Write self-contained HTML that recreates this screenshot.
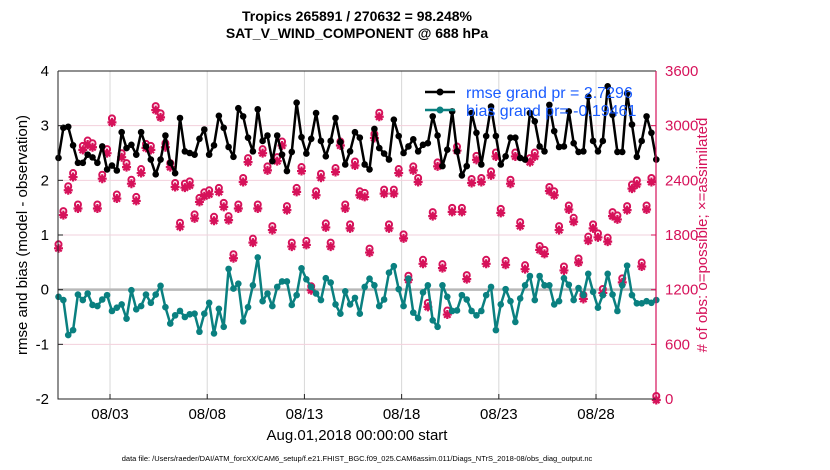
<!DOCTYPE html>
<html><head><meta charset="utf-8"><style>
body{margin:0;background:#fff;}
svg{display:block;font-family:"Liberation Sans",sans-serif;}
</style></head><body>
<svg id="chart" width="830" height="470" viewBox="0 0 830 470">
<g id="grid"></g>
<g id="marks"></g>
<g id="axes"></g>
<text x="357" y="21" text-anchor="middle" font-size="14" font-weight="bold">Tropics 265891 / 270632 = 98.248%</text>
<text x="357" y="38" text-anchor="middle" font-size="14" font-weight="bold">SAT_V_WIND_COMPONENT @ 688 hPa</text>
<text x="357" y="440" text-anchor="middle" font-size="15">Aug.01,2018 00:00:00 start</text>
<text x="357" y="461" text-anchor="middle" font-size="7.5">data file: /Users/raeder/DAI/ATM_forcXX/CAM6_setup/f.e21.FHIST_BGC.f09_025.CAM6assim.011/Diags_NTrS_2018-08/obs_diag_output.nc</text>
<text transform="translate(27,235) rotate(-90)" text-anchor="middle" font-size="15">rmse and bias (model - observation)</text>
<text transform="translate(707,235) rotate(-90)" text-anchor="middle" font-size="15" fill="#d6125a"># of obs: o=possible; ×=assimilated</text>
<g>
<line x1="425" y1="92" x2="455" y2="92" stroke="#000" stroke-width="2.5"/>
<circle cx="440" cy="92" r="3.5" fill="#000"/>
<text x="466" y="98" font-size="16" fill="#1a5cff">rmse grand pr = 2.7296</text>
<line x1="425" y1="110" x2="455" y2="110" stroke="#0a8080" stroke-width="2.5"/>
<circle cx="440" cy="110" r="3.5" fill="#0a8080"/>
<text x="466" y="116" font-size="16" fill="#1a5cff">bias grand pr= -0.19461</text>
</g>
</svg>
<script>
const tickDays=[2,7,12,17,22,27];
const tickLabels=["08/03","08/08","08/13","08/18","08/23","08/28"];
const leftTicks=[4,3,2,1,0,-1,-2];
const rightTicks=[0,600,1200,1800,2400,3000,3600];
const rmse=[2.41,2.96,2.98,2.64,2.32,2.32,2.47,2.42,2.32,2.62,2.20,2.27,2.18,2.88,2.59,2.65,2.47,2.88,2.62,2.38,2.11,2.38,2.82,2.32,2.13,3.14,2.53,2.50,2.47,2.76,2.93,2.47,
2.64,3.18,2.96,2.61,2.43,3.32,3.17,2.78,2.53,3.30,2.72,2.82,2.35,2.82,2.47,2.17,2.52,3.42,2.79,2.49,2.76,3.23,2.72,2.44,2.72,3.14,2.70,2.29,2.53,2.88,2.78,
2.29,2.20,2.94,2.59,2.49,2.38,3.11,2.81,2.50,2.62,2.75,2.53,2.65,2.68,3.17,2.82,2.26,2.56,3.26,2.53,2.09,2.26,3.23,2.87,2.29,2.81,3.35,2.81,2.29,2.44,2.78,
2.78,2.41,2.38,3.23,3.08,2.62,2.53,3.38,2.90,2.61,2.62,3.26,2.68,2.52,2.53,3.53,2.72,2.53,2.72,3.72,3.20,2.52,2.52,3.59,3.02,2.43,2.72,3.17,2.87,2.38];
const bias=[-0.13,-0.19,-0.83,-0.74,-0.09,-0.19,-0.07,-0.28,-0.30,-0.18,-0.10,-0.39,-0.33,-0.27,-0.53,-0.01,-0.36,-0.30,-0.09,-0.24,-0.09,0.07,-0.32,-0.62,-0.47,-0.39,-0.50,-0.45,-0.44,-0.77,-0.44,-0.24,
-0.80,-0.35,-0.68,0.38,0.02,0.11,-0.58,-0.32,0.08,0.59,-0.21,-0.07,-0.30,0.05,0.15,0.15,-0.28,-0.10,0.39,0.19,0.05,-0.07,-0.19,0.21,0.13,-0.27,-0.44,-0.03,-0.27,-0.15,-0.44,
0.05,0.20,0.08,-0.30,-0.18,0.31,0.43,0.01,-0.30,0.20,-0.42,-0.52,-0.05,0.08,-0.56,-0.68,0.08,-0.13,-0.39,-0.38,-0.10,-0.18,-0.39,-0.47,-0.39,-0.10,0.05,-0.74,-0.27,0.01,-0.21,
-0.59,-0.16,0.08,0.25,-0.19,0.25,0.08,0.08,-0.27,-0.21,0.21,0.09,-0.19,0.03,-0.10,0.29,-0.04,-0.33,-0.10,0.29,-0.09,-0.39,0.08,0.44,-0.10,-0.25,-0.25,-0.21,-0.24,-0.19];
const nobs=[1665,2029,2302,2447,2102,2745,2804,2774,2102,2429,2709,3047,2211,2665,2556,2374,2185,2491,2767,2745,3182,3102,2774,2556,2338,1902,2331,2356,1993,2174,2236,2258,
1967,2284,2120,1974,1556,2102,2393,2611,1727,2102,2709,2520,1865,2622,2793,2084,1684,2284,2513,1702,1204,2247,2440,1894,1684,2502,2793,2102,1884,2574,2247,
2229,1618,2876,3109,2265,1884,2265,2491,1774,1320,2520,2393,1495,1022,2018,2564,1447,938,2065,2738,2065,1327,2382,2636,2393,1495,2465,2673,2054,1484,2374,
2673,1909,1436,2611,2673,1647,1604,2294,2247,1865,1422,2091,1956,1509,1109,1749,1884,1785,1175,1738,2018,1982,1291,2084,2320,2367,1465,2091,2393,0];
const t0=-0.65, dt=0.25;
const L=58,R=656,T=71,B=399;
const xS=d=>L+0.5+(d-t0)*19.44;
const yL=v=>T+(4-v)/6*(B-T);
const yR=v=>B-v/3600*(B-T);
const NS="http://www.w3.org/2000/svg";
function mk(tag,attrs,parent){const e=document.createElementNS(NS,tag);for(const k in attrs)e.setAttribute(k,attrs[k]);parent.appendChild(e);return e;}
const grid=document.getElementById('grid'),marks=document.getElementById('marks'),axes=document.getElementById('axes');
tickDays.forEach((d,i)=>{
  const x=xS(d);
  const g=mk('line',{x1:x,y1:T,x2:x,y2:B,stroke:'#d8d8d8','stroke-width':1},grid);
  
  
  const tk=mk('line',{x1:x,y1:B,x2:x,y2:B-5,stroke:'#222'},axes);
  
  
  const t=mk('text',{x:x,y:B+20,'text-anchor':'middle','font-size':15},axes);
  t.textContent=tickLabels[i];
  
  
});
rightTicks.forEach(v=>{
  const y=yR(v);
  if(v>0&&v<3600&&v!==1200){const g=mk('line',{x1:L,y1:y,x2:R,y2:y,stroke:'#f2d0dc','stroke-width':1},grid);
  
  }
  const t=mk('text',{x:R+9,y:y+5,'font-size':15,fill:'#d6125a'},axes);
  t.textContent=v;
  
  
  const tk=mk('line',{x1:R,y1:y,x2:R-5,y2:y,stroke:'#d6125a'},axes);
  
  
});
leftTicks.forEach(v=>{
  const y=yL(v);
  const t=mk('text',{x:L-9,y:y+5,'text-anchor':'end','font-size':15},axes);
  t.textContent=v;
  
  
  const tk=mk('line',{x1:L,y1:y,x2:L+5,y2:y,stroke:'#222'},axes);
  
  
});
const zl=mk('line',{x1:L,y1:yL(0),x2:R,y2:yL(0),stroke:'#b8b8b8','stroke-width':2.5},grid);


nobs.forEach((v,i)=>{
  const x=xS(t0+i*dt),y=yR(v);
  const g=mk('g',{},marks);
  
  
  mk('circle',{cx:x,cy:y-3,r:3,fill:'#fff',stroke:'#d6125a','stroke-width':2},g);
  mk('path',{d:`M${x-4.5} ${y+1}H${x+4.5}M${x} ${y-3.5}V${y+5.5}M${x-3.2} ${y-2.2}L${x+3.2} ${y+4.2}M${x-3.2} ${y+4.2}L${x+3.2} ${y-2.2}`,stroke:'#d6125a','stroke-width':2.2},g);
  mk('circle',{cx:x,cy:y+1,r:2,fill:'#d6125a'},g);
});
function series(arr,color,name){
  const pts=arr.map((v,i)=>xS(t0+i*dt).toFixed(1)+','+yL(v).toFixed(1)).join(' ');
  const pl=mk('polyline',{points:pts,fill:'none',stroke:color,'stroke-width':2.5,'stroke-linejoin':'round'},marks);
  
  
  arr.forEach((v,i)=>{
    const c=mk('circle',{cx:xS(t0+i*dt),cy:yL(v),r:3.3,fill:color},marks);
    
    
  });
}
series(bias,'#0a8080','bias');
series(rmse,'#000','rmse');
mk('path',{d:`M${L} ${T}H${R}M${L} ${T}V${B}H${R}`,fill:'none',stroke:'#222','stroke-width':1},axes);
mk('line',{x1:R,y1:T,x2:R,y2:B,stroke:'#d6125a','stroke-width':1.2},axes);
</script>
</body></html>
